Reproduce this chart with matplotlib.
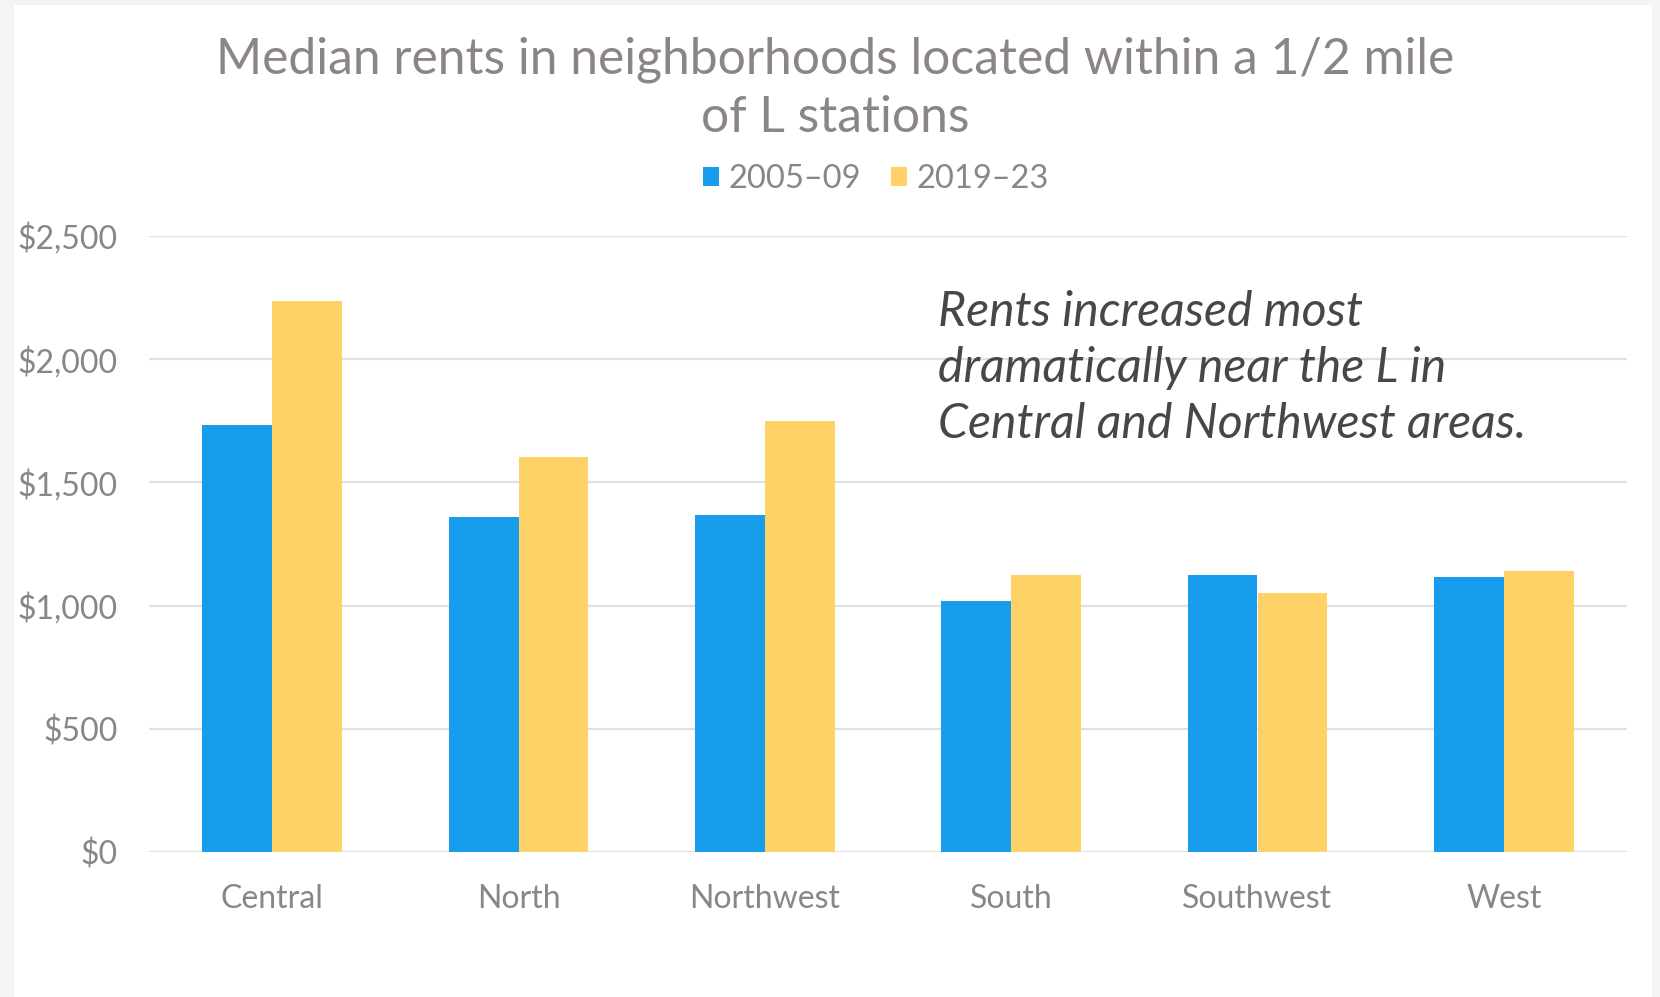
import matplotlib
matplotlib.use("Agg")
import matplotlib.pyplot as plt
from matplotlib.patches import Rectangle
import numpy as np

categories = ["Central", "North", "Northwest", "South", "Southwest", "West"]
series_names = ["2005\u201309", "2019\u201323"]
rent_2005_09 = [1733, 1360, 1368, 1019, 1124, 1116]
rent_2019_23 = [2236, 1603, 1749, 1124, 1051, 1140]
y_ticks = [0, 500, 1000, 1500, 2000, 2500]
y_tick_labels = ["$0", "$500", "$1,000", "$1,500", "$2,000", "$2,500"]
note_lines = ["Rents increased most", "dramatically near the L in",
              "Central and Northwest areas."]

BLUE = "#179DEB"
YELLOW = "#FED266"
TEXT = "#8B8587"
DARK = "#4A4548"
GRID = "#E0E0E0"

plt.rcParams["font.family"] = ["Lato", "DejaVu Sans"]

W, H = 1660, 997
fig = plt.figure(figsize=(W / 100, H / 100), dpi=100)
fig.patch.set_facecolor("#F4F4F4")
fig.patches.append(Rectangle((14 / W, 0), (1652 - 14) / W, (H - 5) / H,
                             transform=fig.transFigure, facecolor="white",
                             edgecolor="none", zorder=-5))

ax = fig.add_axes([149 / W, 1 - 852 / H, (1627 - 149) / W, (852 - 236) / H])
ax.set_zorder(2)
ax.set_facecolor("none")
x = np.arange(len(categories))
bw = 0.284
ax.bar(x - bw / 2, rent_2005_09, width=bw, color=BLUE, label=series_names[0], zorder=3)
ax.bar(x + bw / 2, rent_2019_23, width=bw, color=YELLOW, label=series_names[1], zorder=3)

ax.set_xlim(-0.5, len(categories) - 0.5)
ax.set_ylim(0, 2500)
ax.set_yticks(y_ticks)
ax.set_yticklabels(y_tick_labels)
ax.set_xticks(x)
ax.set_xticklabels(categories)
ax.tick_params(axis="both", length=0, labelsize=23, labelcolor=TEXT)
ax.tick_params(axis="y", pad=22.5)
ax.tick_params(axis="x", pad=23)
for s in ax.spines.values():
    s.set_visible(False)
ax.yaxis.grid(True, color=GRID, linewidth=1.6, zorder=0)
ax.set_axisbelow(True)

fig.text(835 / W, 1 - 60 / H, "Median rents in neighborhoods located within a 1/2 mile",
         ha="center", va="center", fontsize=35.8, color=TEXT, zorder=5)
fig.text(835 / W, 1 - 118 / H, "of L stations",
         ha="center", va="center", fontsize=35.8, color=TEXT, zorder=5)

leg = fig.legend(loc="center", bbox_to_anchor=(876 / W, 1 - 179 / H), ncol=2,
                 frameon=False, fontsize=23.5, labelcolor=TEXT,
                 handlelength=0.5, handleheight=0.5, handletextpad=0.3,
                 columnspacing=0.9)

for i, line in enumerate(note_lines):
    fig.text(938 / W, 1 - (326 + 56 * i) / H, line,
             ha="left", va="baseline", fontsize=34.7, style="italic",
             color=DARK, zorder=5)

fig.savefig("out.png", dpi=100, facecolor=fig.get_facecolor())
